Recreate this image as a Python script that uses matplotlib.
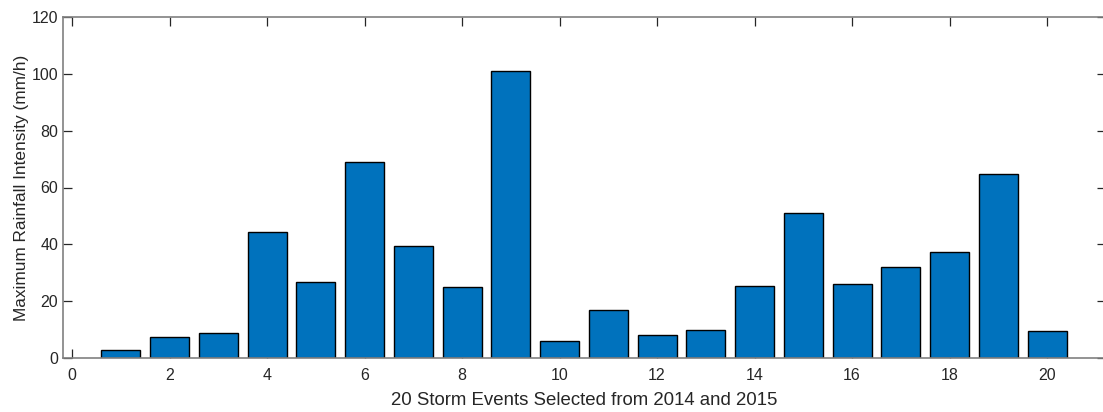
import matplotlib
matplotlib.use('Agg')
import matplotlib.pyplot as plt

plt.rcParams['font.family'] = ['Liberation Sans', 'DejaVu Sans']

# 20개 호우 사상별 최대 강우강도
events = list(range(1, 21))
max_intensity = [2.7, 7.3, 8.9, 44.2, 26.7, 68.8, 39.3, 25.0, 100.9, 5.9,
                 17.0, 8.0, 9.7, 25.2, 51.2, 25.9, 31.9, 37.2, 64.7, 9.4]
x_ticks = [0, 2, 4, 6, 8, 10, 12, 14, 16, 18, 20]
y_ticks = [0, 20, 40, 60, 80, 100, 120]

fig = plt.figure(figsize=(11.03, 4.12), dpi=100)
# 오른쪽 테두리는 그림 밖으로 나가도록
ax = fig.add_axes([63 / 1103, 1 - 358 / 412, (1106 - 63) / 1103, (358 - 17) / 412])

ax.bar(events, max_intensity, width=0.8, color='#0072BD', edgecolor='black', linewidth=1.0, zorder=2)

ax.set_xlim(-0.185, 21.21)
ax.set_ylim(0, 120)
ax.set_xticks(x_ticks)
ax.set_yticks(y_ticks)

for s in ax.spines.values():
    s.set_color('#808080')
    s.set_linewidth(1.2)

ax.tick_params(direction='in', length=6.5, width=0.9, color='#262626',
               labelsize=11.5, labelcolor='#262626', top=True, right=True, zorder=3)
ax.tick_params(axis='x', pad=7)

ax.set_xlabel('20 Storm Events Selected from 2014 and 2015', fontsize=13.4, color='#262626', labelpad=7)
ax.set_ylabel('Maximum Rainfall Intensity (mm/h)', fontsize=12.4, color='#262626', labelpad=2)

fig.savefig('out.png', dpi=100)
